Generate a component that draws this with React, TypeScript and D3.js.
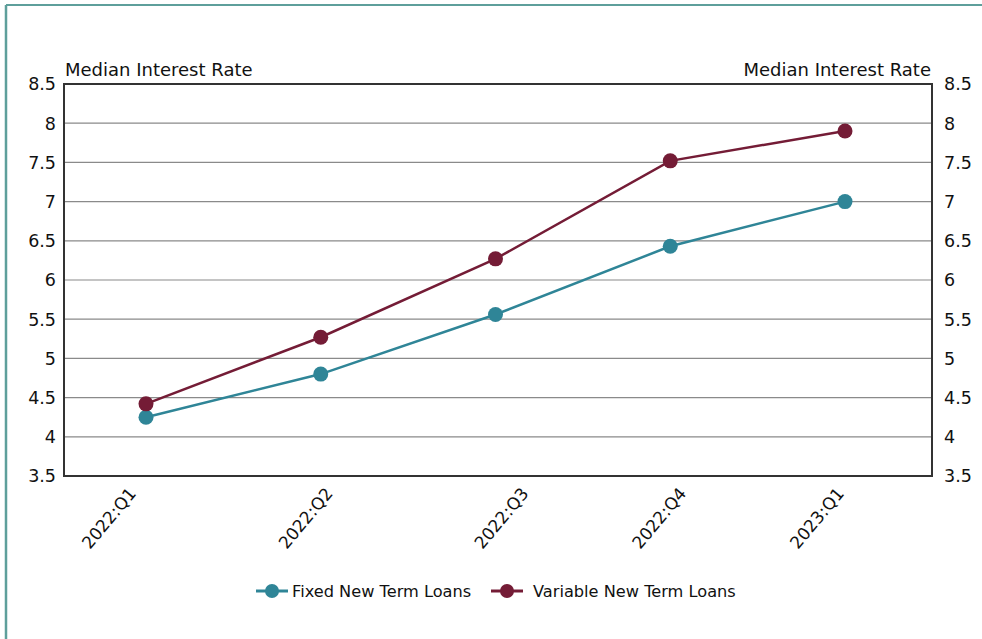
import React from "react";
import * as d3 from "d3";

const categories = ["2022:Q1", "2022:Q2", "2022:Q3", "2022:Q4", "2023:Q1"];
const fixedValues = [4.25, 4.8, 5.56, 6.43, 7.0];
const variableValues = [4.42, 5.27, 6.27, 7.52, 7.9];
const yTicks = [3.5, 4, 4.5, 5, 5.5, 6, 6.5, 7, 7.5, 8, 8.5];
const seriesNames = ["Fixed New Term Loans", "Variable New Term Loans"];
const axisTitle = "Median Interest Rate";

// layout only: nudges of the rotated category labels relative to their points
const xLabelShift = [-9, 13, 34, 17, 0];

const WIDTH = 982;
const HEIGHT = 639;
const PL = 64;
const PR = 932;
const PT = 84;
const PB = 476;
const FONT = "'DejaVu Sans', Verdana, sans-serif";
const FIXED_COLOR = "#2f8597";
const VAR_COLOR = "#741c36";
const BORDER_COLOR = "#5e9f9b";

export default function App() {
  const x = d3.scalePoint<string>().domain(categories).range([PL + 82, PR - 87]);
  const y = d3.scaleLinear().domain([3.5, 8.5]).range([PB, PT]);
  const line = d3
    .line<number>()
    .x((_, i) => x(categories[i]) as number)
    .y((d) => y(d));

  const series = [
    { name: seriesNames[0], values: fixedValues, color: FIXED_COLOR },
    { name: seriesNames[1], values: variableValues, color: VAR_COLOR },
  ];

  const legendItems = [
    { name: seriesNames[0], color: FIXED_COLOR, x0: 256, tx: 292 },
    { name: seriesNames[1], color: VAR_COLOR, x0: 491, tx: 533 },
  ];

  return (
    <svg
      width={WIDTH}
      height={HEIGHT}
      style={{ position: "absolute", left: 0, top: 0, background: "#fff" }}
      fontFamily={FONT}
    >
      <rect x={0} y={0} width={WIDTH} height={HEIGHT} fill="#fff" />
      {/* outer teal frame (top and left visible) */}
      <line x1={6} y1={5} x2={WIDTH} y2={5} stroke={BORDER_COLOR} strokeWidth={2} />
      <line x1={6} y1={5} x2={6} y2={HEIGHT} stroke={BORDER_COLOR} strokeWidth={2.5} />

      {/* grid lines */}
      {yTicks.map((t) => (
        <line key={"g" + t} x1={PL} x2={PR} y1={y(t)} y2={y(t)} stroke="#8a8a8a" strokeWidth={1.2} />
      ))}
      {/* plot frame */}
      <rect x={PL} y={PT} width={PR - PL} height={PB - PT} fill="none" stroke="#333" strokeWidth={2} />

      {/* left ticks */}
      {yTicks.map((t) => (
        <text key={"l" + t} x={PL - 8} y={y(t)} dy="0.36em" textAnchor="end" fontSize={17.5} fill="#111">
          {String(t)}
        </text>
      ))}
      {/* right ticks */}
      {yTicks.map((t) => (
        <text key={"r" + t} x={PR + 12} y={y(t)} dy="0.36em" textAnchor="start" fontSize={17.5} fill="#111">
          {String(t)}
        </text>
      ))}
      {/* axis titles */}
      <text x={PL + 1} y={PT - 8} fontSize={18} fill="#111">
        {axisTitle}
      </text>
      <text x={PR - 1} y={PT - 8} fontSize={18} fill="#111" textAnchor="end">
        {axisTitle}
      </text>

      {/* x labels */}
      {categories.map((c, i) => {
        const cx = (x(c) as number) + xLabelShift[i];
        const cy = PB + 18;
        return (
          <text
            key={c}
            x={cx}
            y={cy}
            transform={`rotate(-50, ${cx}, ${cy})`}
            textAnchor="end"
            fontSize={17}
            fill="#111"
          >
            {c}
          </text>
        );
      })}

      {/* series */}
      {series.map((s) => (
        <g key={s.name}>
          <path d={line(s.values) || ""} fill="none" stroke={s.color} strokeWidth={2.5} />
          {s.values.map((v, i) => (
            <circle key={i} cx={x(categories[i]) as number} cy={y(v)} r={7.5} fill={s.color} />
          ))}
        </g>
      ))}

      {/* legend */}
      {legendItems.map((l) => (
        <g key={l.name}>
          <line x1={l.x0} x2={l.x0 + 32} y1={591} y2={591} stroke={l.color} strokeWidth={3} />
          <circle cx={l.x0 + 16} cy={591} r={7} fill={l.color} />
          <text x={l.tx} y={591} dy="0.36em" fontSize={16.2} fill="#111">
            {l.name}
          </text>
        </g>
      ))}
    </svg>
  );
}
